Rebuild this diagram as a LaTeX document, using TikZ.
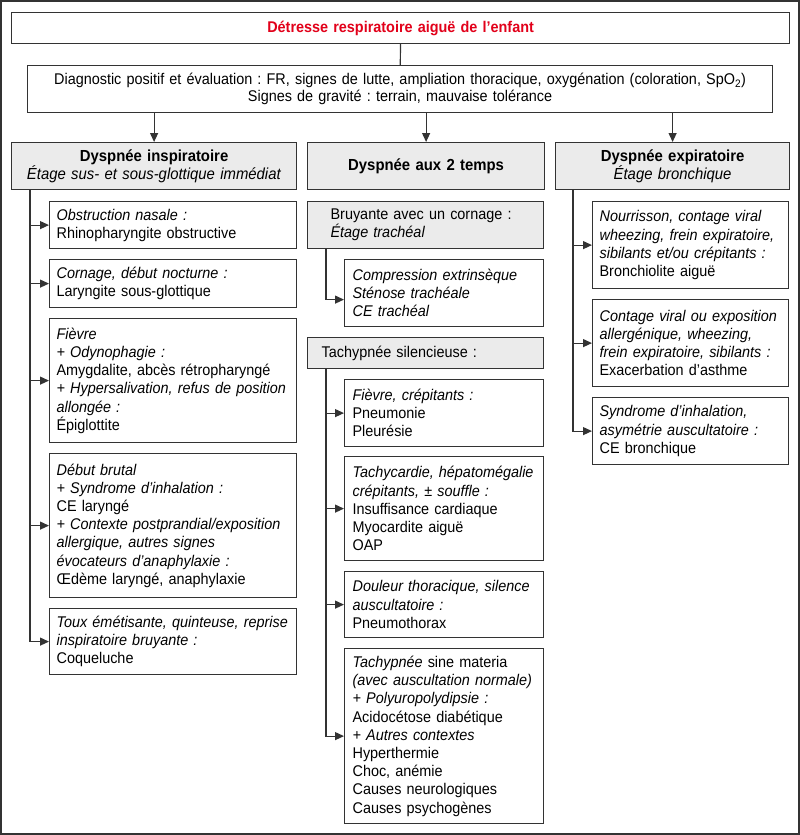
\documentclass[tikz,border=0pt]{standalone}
\usepackage{fontspec}
\setmainfont{Liberation Sans}[FakeStretch=0.93]
\frenchspacing
\usetikzlibrary{arrows.meta}
\definecolor{titre}{HTML}{E2001A}
\definecolor{trait}{HTML}{333333}
\definecolor{fond}{HTML}{EBEBEB}

\tikzset{
  boite/.style={draw=trait,line width=1.2pt,fill=white,align=left,anchor=north west,
    inner xsep=8pt,inner ysep=2pt,font=\fontsize{15.5}{18.2}\selectfont},
  gris/.style={boite,fill=fond},
  entete/.style={gris,align=center,minimum height=47pt,font=\fontsize{16}{18.2}\selectfont},
  gauche/.style={boite,inner xsep=7pt,text width=233pt},
  milieu/.style={boite,text width=183pt},
  droite/.style={boite,inner xsep=7pt,text width=182pt},
  fleche/.style={draw=trait,line width=1.2pt,->},
}

\begin{document}
\begin{tikzpicture}[x=1pt,y=-1pt,>={Triangle[length=9pt,width=8pt]}]
    \useasboundingbox (0,0) rectangle (800,835);
    \draw[trait,line width=2pt] (1,1) rectangle (799,834);

    % haut
    \node[boite,align=center,text width=762pt,minimum height=31pt,font=\fontsize{15.5}{18.2}\selectfont\bfseries,text=titre]
      (titre) at (11,12) {Détresse respiratoire aiguë de l’enfant};
    \node[boite,align=center,text width=729pt,minimum height=47pt,font=\fontsize{15.5}{16.8}\selectfont]
      (diag) at (27,65) {Diagnostic positif et évaluation : FR, signes de lutte, ampliation thoracique, oxygénation (coloration, SpO\textsubscript{2})\\
      Signes de gravité : terrain, mauvaise tolérance};

    \path
    (11,142) node[entete,text width=269pt] (insp) {\textbf{Dyspnée inspiratoire}\\ \textit{Étage sus- et sous-glottique immédiat}}
    (307,142) node[entete,text width=221pt] (deux) {\textbf{Dyspnée aux 2 temps}}
    (555,142) node[entete,text width=218pt] (expi) {\textbf{Dyspnée expiratoire}\\ \textit{Étage bronchique}}
    ;

    \draw[trait,line width=1.2pt] (titre) -- (diag);
    \foreach \n in {insp,deux,expi}
      \draw[fleche] (diag.south -| \n) -- (\n);

    % colonne gauche
    \path
    (49,201) node[gauche,minimum height=47pt] (nasal) {\textit{Obstruction nasale :}\\ Rhinopharyngite obstructive}
    (49,259) node[gauche,minimum height=48pt] (cornage) {\textit{Cornage, début nocturne :}\\ Laryngite sous-glottique}
    (49,318) node[gauche,minimum height=124pt] (fievre) {\textit{Fièvre}\\ \textit{+ Odynophagie :}\\ Amygdalite, abcès rétropharyngé\\
      \textit{+ Hypersalivation, refus de position}\\ \textit{allongée :}\\ Épiglottite}
    (49,453) node[gauche,minimum height=144pt] (brutal) {\textit{Début brutal}\\ \textit{+ Syndrome d’inhalation :}\\ CE laryngé\\
      \textit{+ Contexte postprandial/exposition}\\ \textit{allergique, autres signes}\\ \textit{évocateurs d’anaphylaxie :}\\ Œdème laryngé, anaphylaxie}
    (49,608) node[gauche,minimum height=66pt] (toux) {\textit{Toux émétisante, quinteuse, reprise}\\ \textit{inspiratoire bruyante :}\\ Coqueluche}
    ;
    \coordinate (lg) at (30,0);
    \draw[fleche] (insp.south -| lg) |- (toux);
    \foreach \n in {nasal,cornage,fievre,brutal}
      \draw[fleche] (\n.west -| lg) -- (\n);

    % colonne du milieu
    \path
    (307,201) node[gris,inner xsep=23pt,text width=190pt,minimum height=47pt] (bruyant) {Bruyante avec un cornage :\\ \textit{Étage trachéal}}
    (344,259) node[milieu,minimum height=67pt] (compr) {\textit{Compression extrinsèque}\\ \textit{Sténose trachéale}\\ \textit{CE trachéal}}
    (307,337) node[gris,inner xsep=14pt,text width=208pt,minimum height=31pt] (silence) {Tachypnée silencieuse :}
    (344,379) node[milieu,minimum height=67pt] (crepit) {\textit{Fièvre, crépitants :}\\ Pneumonie\\ Pleurésie}
    (344,456) node[milieu,minimum height=104pt] (tachy) {\textit{Tachycardie, hépatomégalie}\\ \textit{crépitants, ± souffle :}\\
      Insuffisance cardiaque\\ Myocardite aiguë\\ OAP}
    (344,571) node[milieu,minimum height=66pt] (douleur) {\textit{Douleur thoracique, silence}\\ \textit{auscultatoire :}\\ Pneumothorax}
    (344,648) node[milieu,minimum height=175pt] (sine) {\textit{Tachypnée} sine materia\\ \textit{(avec auscultation normale)}\\
      \textit{+ Polyuropolydipsie :}\\ Acidocétose diabétique\\ \textit{+ Autres contextes}\\ Hyperthermie\\ Choc, anémie\\
      Causes neurologiques\\ Causes psychogènes}
    ;
    \coordinate (lm) at (326,0);
    \draw[fleche] (bruyant.south -| lm) |- ([yshift=-6.5pt]compr.west);
    \draw[fleche] (silence.south -| lm) |- (sine);
    \foreach \n in {crepit,tachy,douleur}
      \draw[fleche] (\n.west -| lm) -- (\n);

    % colonne droite
    \path
    (592,201) node[droite,minimum height=87pt] (bronchio) {\textit{Nourrisson, contage viral}\\ \textit{wheezing, frein expiratoire,}\\
      \textit{sibilants et/ou crépitants :}\\ Bronchiolite aiguë}
    (592,299) node[droite,minimum height=87pt] (asthme) {\textit{Contage viral ou exposition}\\ \textit{allergénique, wheezing,}\\
      \textit{frein expiratoire, sibilants :}\\ Exacerbation d’asthme}
    (592,397) node[droite,minimum height=67pt] (inhal) {\textit{Syndrome d’inhalation,}\\ \textit{asymétrie auscultatoire :}\\ CE bronchique}
    ;
    \coordinate (ld) at (573,0);
    \draw[fleche] (expi.south -| ld) |- (inhal);
    \foreach \n in {bronchio,asthme}
      \draw[fleche] (\n.west -| ld) -- (\n);
\end{tikzpicture}
\end{document}
